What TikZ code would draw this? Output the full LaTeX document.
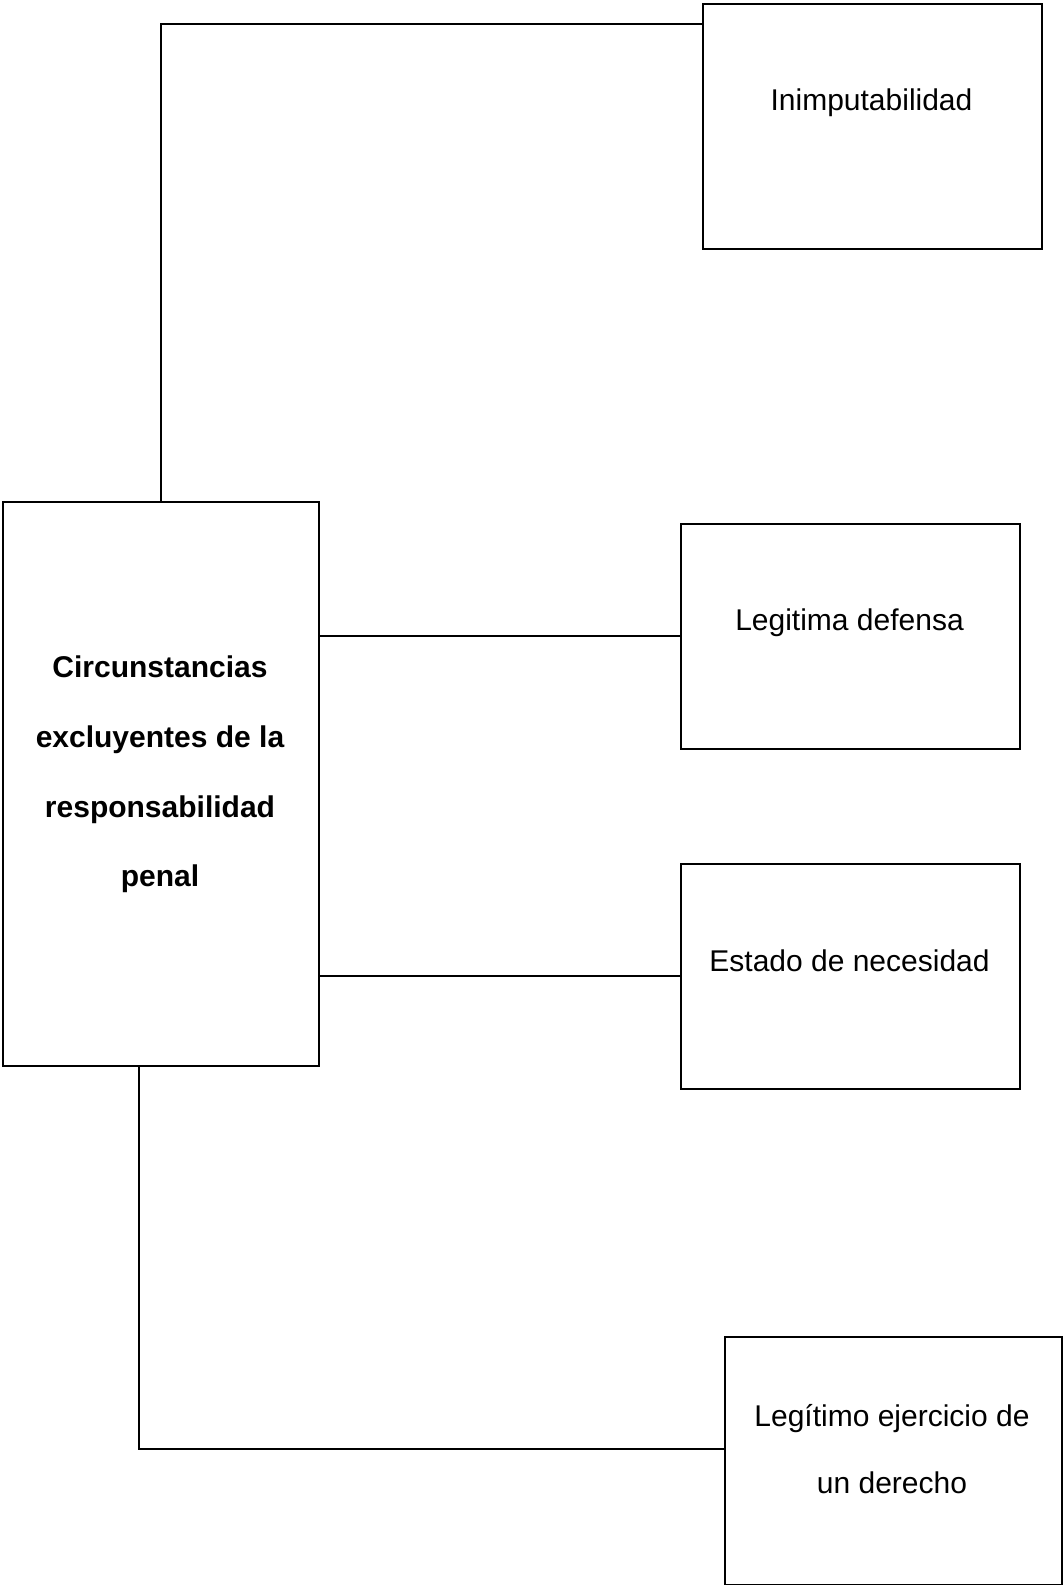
\documentclass[tikz,border=0pt]{standalone}
\usepackage{fontspec}
\setmainfont{Liberation Sans}
\begin{document}
\begin{tikzpicture}[x=1pt,y=-1pt,
  box/.style={draw=black,line width=1.8pt,rectangle,inner sep=0pt,anchor=north west},
  conn/.style={draw=black,line width=1.8pt},
  txt/.style={anchor=base,inner sep=0pt,font=\fontsize{30}{36}\selectfont},
  btxt/.style={anchor=base,inner sep=0pt,font=\fontsize{30}{36}\selectfont\bfseries}]
\useasboundingbox[fill=white] (0,0) rectangle (1063,1585);
% boxes
\node[box,minimum width=316pt,minimum height=564pt] (main) at (2,501) {};
\node[box,minimum width=339pt,minimum height=245pt] (A) at (702,3) {};
\node[box,minimum width=339pt,minimum height=225pt] (B) at (680,523) {};
\node[box,minimum width=339pt,minimum height=225pt] (C) at (680,863) {};
\node[box,minimum width=337pt,minimum height=248pt] (D) at (724,1336) {};
% texts
\node[btxt] (m1) at (160,677) {Circunstancias};
\node[btxt] (m2) at (160,747) {excluyentes de la};
\node[btxt] (m3) at (160,817) {responsabilidad};
\node[btxt] (m4) at (160,886) {penal};
\node[txt] (ta) at (871.5,110) {Inimputabilidad};
\node[txt] (tb) at (849.5,630) {Legitima defensa};
\node[txt] (tc) at (849.5,971) {Estado de necesidad};
\node[txt] (td1) at (892,1426) {Legítimo ejercicio de};
\node[txt] (td2) at (892,1493) {un derecho};
% connectors
\draw[conn] (main.north) |- ([yshift=-21pt]A.north west);
\draw[conn] ([yshift=0.5pt]B.west -| main.east) -- ([yshift=0.5pt]B.west);
\draw[conn] ([yshift=0.5pt]C.west -| main.east) -- ([yshift=0.5pt]C.west);
\draw[conn] ([xshift=-22pt]main.south) |- ([yshift=12pt]D.west);
\end{tikzpicture}
\end{document}
